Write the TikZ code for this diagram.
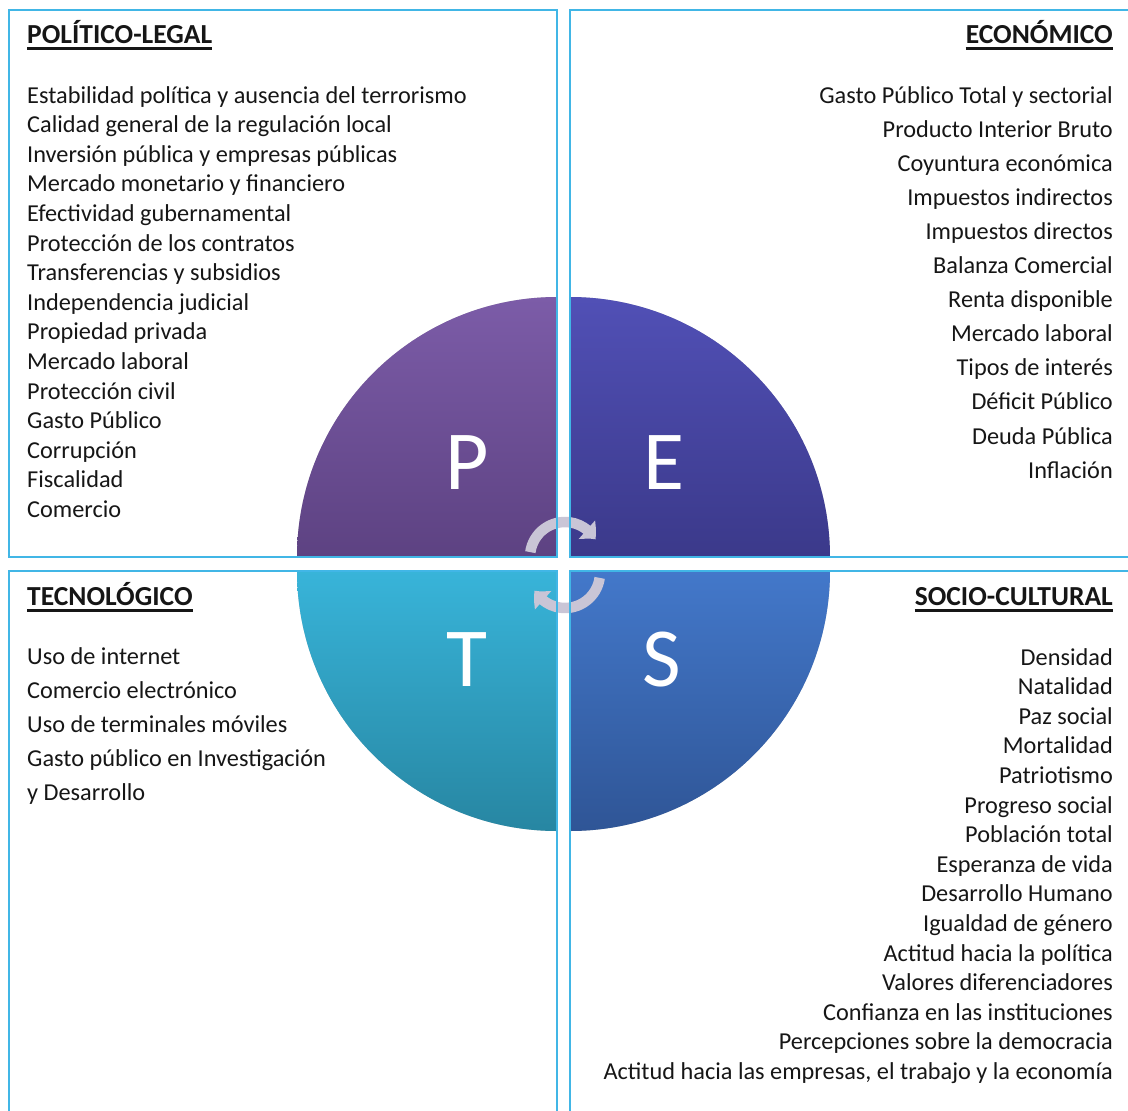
\documentclass[tikz,border=0pt]{standalone}
\usepackage{fontspec}
\setmainfont{Carlito}
\usetikzlibrary{arrows.meta,bending,positioning}
\definecolor{frame}{HTML}{41B6E6}
\definecolor{ink}{HTML}{161616}
\definecolor{pTop}{HTML}{7C5CA8}
\definecolor{pBot}{HTML}{5D4282}
\definecolor{eTop}{HTML}{5150B6}
\definecolor{eBot}{HTML}{3B398A}
\definecolor{tTop}{HTML}{38B4D9}
\definecolor{tBot}{HTML}{2786A2}
\definecolor{sTop}{HTML}{4378CA}
\definecolor{sBot}{HTML}{2F5596}
\definecolor{cycgray}{HTML}{C9C5D6}
% quarter disc with its corner at #1, starting at angle #2
\newcommand\quarter[2]{(#1) -- ++(#2:260pt) arc[start angle=#2,delta angle=-90,radius=260pt] -- cycle}

\begin{document}
\begin{tikzpicture}[x=1pt,y=-1pt,
  box/.style={draw=frame,line width=1.6pt},
  head/.style={font=\fontsize{27.5}{30}\selectfont\bfseries,text=ink,inner sep=0pt},
  item/.style={font=\fontsize{24.3}{29.6}\selectfont,text=ink,inner sep=0pt},
  letter/.style={font=\fontsize{84}{90}\selectfont,text=white,inner sep=0pt},
  cyc/.style={line width=10.5pt,draw=cycgray,-{Triangle[bend,width=24pt,length=13pt]}},
  ulrule/.style={line width=3pt,draw=ink}]
\useasboundingbox (0,0) rectangle (1128,1111);
\coordinate (cp) at (557,557); \coordinate (ce) at (570,557);
\coordinate (ct) at (557,571); \coordinate (cs) at (570,571);

% disc quadrants with a soft shadow
\foreach \c/\a in {cp/180,ce/90,cs/0,ct/270}{
  \fill[black,opacity=0.10,xshift=1pt,yshift=-2pt] \quarter{\c}{\a};
  \fill[black,opacity=0.10,xshift=2pt,yshift=-3.5pt] \quarter{\c}{\a};}
\foreach \c/\a/\t/\b in {cp/180/pTop/pBot,ce/90/eTop/eBot,cs/0/sTop/sBot,ct/270/tTop/tBot}
  \shade[top color=\t,bottom color=\b] \quarter{\c}{\a};

\node[letter] (lp) at (467,463) {P};
\node[letter] (le) at (664,463) {E};
\node[letter] (lt) at (467,660) {T};
\node[letter] (ls) at (662,660) {S};

% cycle arrows in the middle
\draw[cyc] (565,557) ++(172:35pt) arc[start angle=172,end angle=30,radius=35pt];
\draw[cyc] (565,573) ++(-8:35pt) arc[start angle=-8,end angle=-150,radius=35pt];

% frames
\draw[box] (9,10) rectangle (557,557);
\draw[box] (1128,10) -- (570,10) -- (570,557) -- (1128,557);
\draw[box] (9,1111) -- (9,571) -- (557,571) -- (557,1111);
\draw[box] (1128,571) -- (570,571) -- (570,1111);

% headings
\node[head,anchor=base west] (hpol) at (27,43) {POLÍTICO-LEGAL};
\node[head,anchor=base east] (heco) at (1113,43) {ECONÓMICO};
\node[head,anchor=base west] (htec) at (27,605) {TECNOLÓGICO};
\node[head,anchor=base east] (hsoc) at (1113,605) {SOCIO-CULTURAL};
\foreach \n in {hpol,heco,htec,hsoc}
  \draw[ulrule] ([yshift=-5pt]\n.base west) -- ([yshift=-5pt]\n.base east);

% factor lists
\foreach \t [count=\i from 0] in {Estabilidad política y ausencia del terrorismo,
  Calidad general de la regulación local,Inversión pública y empresas públicas,
  Mercado monetario y financiero,Efectividad gubernamental,Protección de los contratos,
  Transferencias y subsidios,Independencia judicial,Propiedad privada,Mercado laboral,
  Protección civil,Gasto Público,Corrupción,Fiscalidad,Comercio}
  \node[item,anchor=base west] (pol\i) at (27,{103+29.6*\i}) {\t};
\foreach \t [count=\i from 0] in {Gasto Público Total y sectorial,Producto Interior Bruto,
  Coyuntura económica,Impuestos indirectos,Impuestos directos,Balanza Comercial,
  Renta disponible,Mercado laboral,Tipos de interés,Déficit Público,Deuda Pública,Inflación}
  \node[item,anchor=base east] (eco\i) at (1113,{103+34.1*\i}) {\t};
\foreach \t [count=\i from 0] in {Uso de internet,Comercio electrónico,
  Uso de terminales móviles,Gasto público en Investigación,y Desarrollo}
  \node[item,anchor=base west] (tec\i) at (27,{664+34*\i}) {\t};
\foreach \t [count=\i from 0] in {Densidad,Natalidad,Paz social,Mortalidad,Patriotismo,
  Progreso social,Población total,Esperanza de vida,Desarrollo Humano,Igualdad de género,
  Actitud hacia la política,Valores diferenciadores,Confianza en las instituciones,
  Percepciones sobre la democracia,{Actitud hacia las empresas, el trabajo y la economía}}
  \node[item,anchor=base east] (soc\i) at (1113,{665+29.6*\i}) {\t};
\end{tikzpicture}
\end{document}
